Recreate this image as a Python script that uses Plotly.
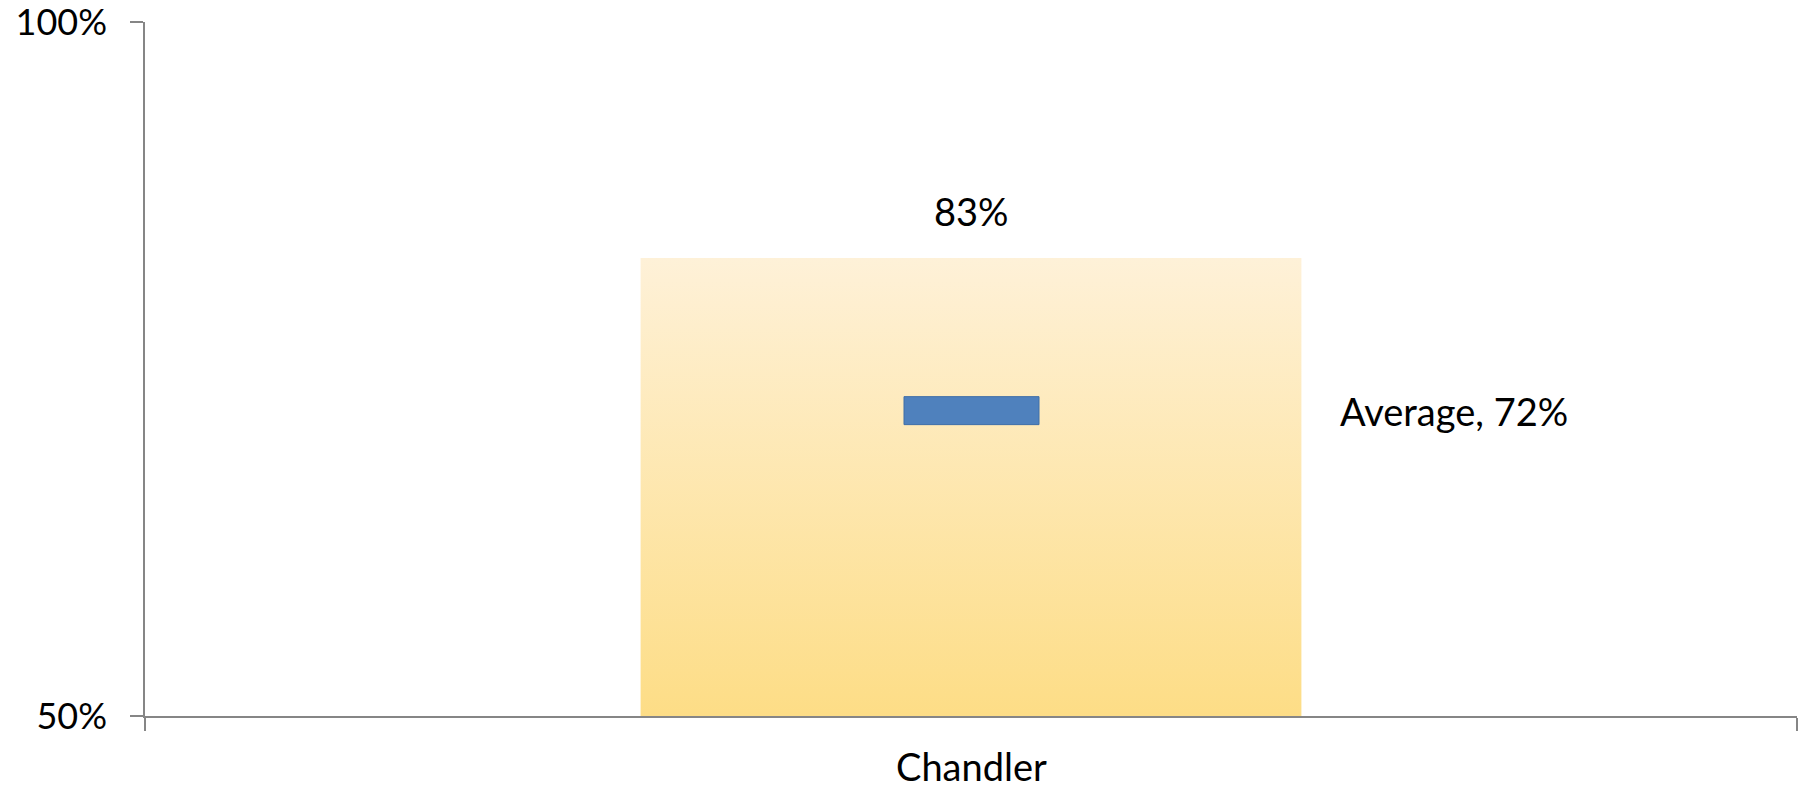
import plotly.graph_objects as go

# Data
categories = ["Chandler"]
values = [83]          # percent
average = [72]         # percent
y_ticks = [50, 100]
y_tick_labels = ["50%", "100%"]

AXIS_COLOR = "#868686"
FONT = "Lato"
FONT_SIZE = 38
TICK_FONT_SIZE = 36
BAR_TOP = "#FEF1D8"
BAR_BOTTOM = "#FDDD86"
BAR_HALF = 0.2   # half bar width in category units

fig = go.Figure()

# Gradient-filled bar for each category (numeric x positions 0..n-1)
for i, (cat, v) in enumerate(zip(categories, values)):
    fig.add_trace(go.Scatter(
        x=[i - BAR_HALF, i + BAR_HALF, i + BAR_HALF, i - BAR_HALF, i - BAR_HALF],
        y=[y_ticks[0], y_ticks[0], v, v, y_ticks[0]],
        mode="lines",
        line=dict(width=0),
        fill="toself",
        fillgradient=dict(type="vertical",
                          colorscale=[[0, BAR_BOTTOM], [1, BAR_TOP]]),
        hoverinfo="skip",
        showlegend=False,
    ))
    # value label above the bar
    fig.add_annotation(x=i, y=v, text=f"{v}%", showarrow=False,
                       yanchor="bottom", yshift=22,
                       font=dict(family=FONT, size=FONT_SIZE, color="#000000"))
    # category label under the axis
    fig.add_annotation(x=i, y=0, yref="paper", text=cat, showarrow=False,
                       yanchor="middle", yshift=-50,
                       font=dict(family=FONT, size=FONT_SIZE, color="#000000"))

# Average marker (blue dash) and its label
for i, a in enumerate(average):
    fig.add_shape(type="rect", xref="x", yref="y",
                  xsizemode="pixel", ysizemode="pixel",
                  xanchor=i, yanchor=a,
                  x0=-67, x1=68, y0=-14, y1=14,
                  fillcolor="#4F81BD", line=dict(color="#3F6FA8", width=1))
    fig.add_annotation(x=i, y=a, text=f"Average, {a}%", showarrow=False,
                       xanchor="left", yanchor="middle", xshift=367,
                       font=dict(family=FONT, size=FONT_SIZE, color="#000000"))

n = len(categories)
fig.update_layout(
    width=1806, height=788,
    margin=dict(l=145, r=9, t=22, b=72, autoexpand=False),
    plot_bgcolor="white", paper_bgcolor="white",
    showlegend=False,
    xaxis=dict(
        range=[-0.5, n - 0.5],
        tickvals=[k - 0.5 for k in range(n + 1)],
        ticktext=["" for _ in range(n + 1)],
        ticks="outside", ticklen=13, tickwidth=1.5, tickcolor=AXIS_COLOR,
        showline=True, linecolor=AXIS_COLOR, linewidth=1.5,
        showgrid=False, zeroline=False, fixedrange=True, automargin=False,
    ),
    yaxis=dict(
        range=[y_ticks[0], y_ticks[-1]],
        tickvals=y_ticks, ticktext=y_tick_labels,
        ticks="outside", ticklen=13, tickwidth=1.5, tickcolor=AXIS_COLOR,
        ticklabelstandoff=16, ticklabeloverflow="allow",
        tickfont=dict(family=FONT, size=TICK_FONT_SIZE, color="#000000"),
        showline=True, linecolor=AXIS_COLOR, linewidth=1.5,
        showgrid=False, zeroline=False, fixedrange=True, automargin=False,
    ),
)

fig.write_html("out.html")
